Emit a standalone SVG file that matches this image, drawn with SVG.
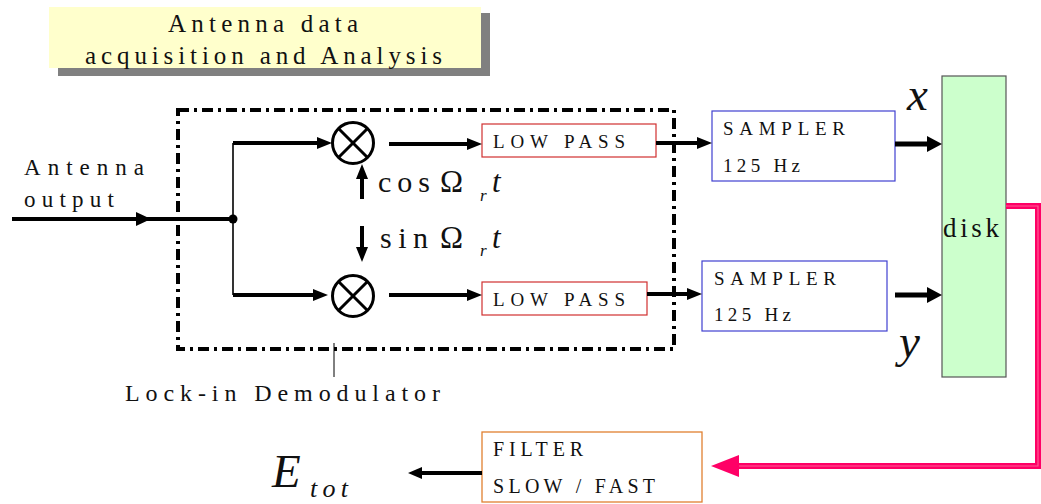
<svg xmlns="http://www.w3.org/2000/svg" width="1041" height="504" viewBox="0 0 1041 504">
<style>
  .thick { stroke: #000; stroke-width: 4; fill: none; }
  .thin { stroke: #000; stroke-width: 1.6; fill: none; }
  .dd { stroke: #000; stroke-width: 4; fill: none; stroke-dasharray: 11 5 3 5; }
  .lp { fill: #fff; stroke: #D03030; stroke-width: 1.2; }
  .sm { fill: #fff; stroke: #4040D0; stroke-width: 1.2; }
  .ah { fill: #000; }
</style>
<g font-family="'Liberation Serif', 'DejaVu Serif', 'Noto Serif', serif" fill="#111">

<g id="title">
  <rect x="58" y="13" width="432" height="63" fill="#808080"/>
  <rect x="49" y="7" width="432" height="61" fill="#FFFFCC"/>
  <text x="168" y="32" font-size="25" textLength="190" lengthAdjust="spacing">Antenna data</text>
  <text x="85" y="64" font-size="25" textLength="357" lengthAdjust="spacing">acquisition and Analysis</text>
</g>

<g id="lockin-box">
  <rect x="178" y="110" width="496" height="239" class="dd"/>
  <line x1="334" y1="343" x2="334" y2="377" stroke="#000" stroke-width="1"/>
  <text x="125" y="401" font-size="24" textLength="315" lengthAdjust="spacing">Lock-in Demodulator</text>
</g>

<g id="antenna-output">
  <text x="24" y="175" font-size="23" textLength="120" lengthAdjust="spacing">Antenna</text>
  <text x="24" y="207" font-size="23" textLength="90" lengthAdjust="spacing">output</text>
</g>

<g id="mixer-top">
  <circle cx="353" cy="143" r="20.5" fill="#fff" stroke="#000" stroke-width="3"/>
  <line x1="339" y1="129" x2="367" y2="157" stroke="#000" stroke-width="3"/>
  <line x1="367" y1="129" x2="339" y2="157" stroke="#000" stroke-width="3"/>
</g>
<g id="mixer-bottom">
  <circle cx="353" cy="296" r="20.5" fill="#fff" stroke="#000" stroke-width="3"/>
  <line x1="339" y1="282" x2="367" y2="310" stroke="#000" stroke-width="3"/>
  <line x1="367" y1="282" x2="339" y2="310" stroke="#000" stroke-width="3"/>
</g>

<g id="cos-label">
  <text x="378" y="192" font-size="30" textLength="52" lengthAdjust="spacing">cos</text>
  <text x="440" y="192" font-size="31">Ω</text>
  <text x="480" y="201" font-size="17" font-style="italic">r</text>
  <text x="492" y="192" font-size="31" font-style="italic">t</text>
</g>
<g id="sin-label">
  <text x="380" y="248" font-size="30" textLength="48" lengthAdjust="spacing">sin</text>
  <text x="440" y="248" font-size="31">Ω</text>
  <text x="480" y="256" font-size="17" font-style="italic">r</text>
  <text x="492" y="248" font-size="31" font-style="italic">t</text>
</g>

<g id="lowpass-top">
  <rect x="482" y="124" width="174" height="33" class="lp"/>
  <text x="493" y="148" font-size="19" textLength="132" lengthAdjust="spacing">LOW PASS</text>
</g>
<g id="lowpass-bottom">
  <rect x="482" y="282" width="165" height="33" class="lp"/>
  <text x="493" y="306" font-size="19" textLength="132" lengthAdjust="spacing">LOW PASS</text>
</g>

<g id="sampler-top">
  <rect x="712" y="111" width="183" height="70" class="sm"/>
  <text x="723" y="135" font-size="19" textLength="122" lengthAdjust="spacing">SAMPLER</text>
  <text x="723" y="172" font-size="19" textLength="77" lengthAdjust="spacing">125 Hz</text>
</g>
<g id="sampler-bottom">
  <rect x="702" y="261" width="185" height="70" class="sm"/>
  <text x="714" y="285" font-size="19" textLength="122" lengthAdjust="spacing">SAMPLER</text>
  <text x="714" y="321" font-size="19" textLength="77" lengthAdjust="spacing">125 Hz</text>
</g>

<g id="disk">
  <rect x="942" y="76" width="64" height="301" fill="#CCFFCC" stroke="#555" stroke-width="1.2"/>
  <text x="943" y="237" font-size="27" textLength="56" lengthAdjust="spacing">disk</text>
</g>

<g id="xy-labels">
  <text x="907" y="110" font-size="47" font-style="italic">x</text>
  <text x="899" y="357" font-size="47" font-style="italic">y</text>
</g>

<g id="filter">
  <rect x="482" y="432" width="220" height="70" fill="#fff" stroke="#E08030" stroke-width="1.3"/>
  <text x="493" y="456" font-size="20" textLength="90" lengthAdjust="spacing">FILTER</text>
  <text x="493" y="493" font-size="20" textLength="162" lengthAdjust="spacing">SLOW / FAST</text>
</g>

<g id="etot">
  <text x="272" y="487" font-size="47" font-style="italic">E</text>
  <text x="310" y="497" font-size="26" font-style="italic" textLength="38" lengthAdjust="spacing">tot</text>
</g>

</g>
<g id="connectors">
  <line x1="12" y1="219" x2="233" y2="219" class="thick"/>
  <polygon points="136,212 151,219 136,226" class="ah"/>
  <circle cx="233" cy="219" r="4.5" fill="#000"/>
  <line x1="233" y1="143" x2="233" y2="295" class="thin"/>
  <line x1="233" y1="143" x2="320" y2="143" class="thick"/>
  <polygon points="317,137 332,143 317,149" class="ah"/>
  <line x1="233" y1="295" x2="316" y2="295" class="thick"/>
  <polygon points="313,289 328,295 313,301" class="ah"/>
  <line x1="362" y1="199" x2="362" y2="176" class="thick"/>
  <polygon points="356,179 362,164 368,179" class="ah"/>
  <line x1="362" y1="226" x2="362" y2="250" class="thick"/>
  <polygon points="356,247 362,262 368,247" class="ah"/>
  <line x1="389" y1="144" x2="470" y2="144" class="thick"/>
  <polygon points="467,138 482,144 467,150" class="ah"/>
  <line x1="389" y1="295" x2="470" y2="295" class="thick"/>
  <polygon points="467,289 482,295 467,301" class="ah"/>
  <line x1="656" y1="143" x2="700" y2="143" class="thick"/>
  <polygon points="697,137 712,143 697,149" class="ah"/>
  <line x1="647" y1="294" x2="690" y2="294" class="thick"/>
  <polygon points="687,288 702,294 687,300" class="ah"/>
  <line x1="895" y1="144" x2="930" y2="144" stroke="#000" stroke-width="5"/>
  <polygon points="927,136 942,144 927,152" class="ah"/>
  <line x1="895" y1="295" x2="930" y2="295" stroke="#000" stroke-width="5"/>
  <polygon points="927,287 942,295 927,303" class="ah"/>
  <polyline points="1006,206 1038,206 1038,466 737,466" fill="none" stroke="#FF0066" stroke-width="6"/>
  <polyline points="1006,206 1038,206 1038,466 737,466" fill="none" stroke="#FF5C94" stroke-width="1.2"/>
  <polygon points="711,466 739,455 739,477" fill="#FF0066"/>
  <line x1="482" y1="473" x2="418" y2="473" class="thick"/>
  <polygon points="422,467 408,473 422,479" class="ah"/>
</g>
</svg>
